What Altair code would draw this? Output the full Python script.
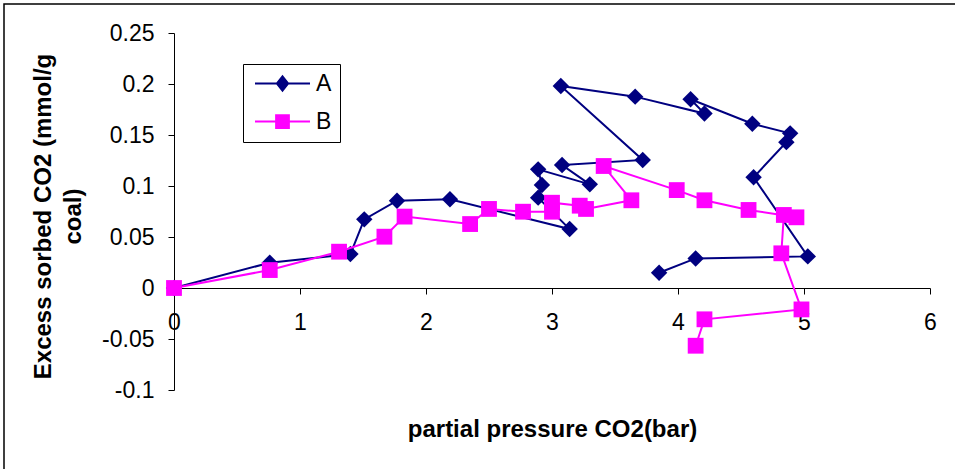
import altair as alt
import pandas as pd

series_names = ["A", "B"]
series_colors = ["#000080", "#FF00FF"]

a_x = [0, 0.76, 1.40, 1.51, 1.77, 2.19, 3.14, 2.89, 2.92, 2.89, 3.30, 3.08, 3.72,
       3.07, 3.66, 4.21, 4.10, 4.59, 4.89, 4.86, 4.60, 5.03, 4.14, 3.85]
a_y = [0, 0.0248, 0.0333, 0.0673, 0.0856, 0.087, 0.0578, 0.0886, 0.101, 0.1163, 0.1016, 0.1206, 0.1255,
       0.198, 0.1876, 0.171, 0.185, 0.161, 0.1516, 0.143, 0.1085, 0.031, 0.029, 0.015]

b_x = [0, 0.76, 1.31, 1.67, 1.83, 2.35, 2.50, 2.77, 3.00, 3.00, 3.22, 3.27, 3.63,
       3.41, 3.99, 4.21, 4.56, 4.94, 4.84, 4.82, 4.98, 4.21, 4.14]
b_y = [0, 0.0176, 0.0356, 0.0503, 0.070, 0.0627, 0.0775, 0.0748, 0.0748, 0.0836, 0.0807, 0.0775, 0.086,
       0.1196, 0.096, 0.086, 0.0765, 0.0693, 0.0716, 0.034, -0.021, -0.0307, -0.0566]

x_ticks = [0, 1, 2, 3, 4, 5, 6]
y_ticks = [-0.1, -0.05, 0, 0.05, 0.1, 0.15, 0.2, 0.25]

rows = []
for i, (x, y) in enumerate(zip(a_x, a_y)):
    rows.append({"series": "A", "idx": i, "p": x, "s": y})
for i, (x, y) in enumerate(zip(b_x, b_y)):
    rows.append({"series": "B", "idx": i, "p": x, "s": y})
df = pd.DataFrame(rows)

FONT = "Liberation Sans"

# legend symbols: a line with the marker in its middle
legend_paths = [
    "M-3.667,0L3.667,0M0,-0.95L0.75,0L0,0.95L-0.75,0Z",
    "M-3.667,0L3.667,0M-0.85,-0.85L0.85,-0.85L0.85,0.85L-0.85,0.85Z",
]

legend = alt.Legend(
    title=None, orient="none", legendX=69, legendY=31, direction="vertical",
    fillColor="white", strokeColor="black", padding=8,
    symbolSize=225, symbolStrokeWidth=2, symbolOffset=20, labelOffset=22,
    symbolOpacity=1,
    labelFont=FONT, labelFontSize=23, labelColor="black", rowPadding=14,
)

color_enc = alt.Color("series:N", scale=alt.Scale(domain=series_names, range=series_colors), legend=None)

x_enc = alt.X(
    "p:Q",
    scale=alt.Scale(domain=[0, 6], nice=False, zero=False),
    axis=alt.Axis(
        values=x_ticks, format="d", offset=-102, tickSize=6, labelPadding=17,
        labelFontSize=23, labelFlush=False, labelOverlap=False,
        title="partial pressure CO2(bar)", titleFontSize=24, titleFontWeight="bold",
        titleX=378, titleY=148, titleBaseline="alphabetic", titleAlign="center",
    ),
)
y_enc = alt.Y(
    "s:Q",
    scale=alt.Scale(domain=[-0.1, 0.25], nice=False, zero=False),
    axis=alt.Axis(
        values=y_ticks, tickSize=6, labelPadding=14, labelFontSize=23,
        labelExpr="replace(format(datum.value, '.2~f'), '\u2212', '-')",
        labelFlush=False, labelOverlap=False,
        title=["Excess sorbed CO2 (mmol/g", "\u00a0\u00a0\u00a0\u00a0coal)"],
        titleFontSize=24, titleFontWeight="bold", titleAngle=270,
        titleX=-124, titleY=183, titleAlign="center", titleBaseline="alphabetic",
        titleLineHeight=30,
    ),
)

base = alt.Chart(df)

def line_layer(name):
    return base.transform_filter(alt.datum.series == name).mark_line(strokeWidth=2).encode(
        x=x_enc, y=y_enc, color=color_enc, order=alt.Order("idx:Q"))

pt_a = base.transform_filter(alt.datum.series == "A").mark_point(
    shape="diamond", filled=True, size=270, opacity=1).encode(x=x_enc, y=y_enc, color=color_enc)
pt_b = base.transform_filter(alt.datum.series == "B").mark_square(
    size=250, opacity=1).encode(x=x_enc, y=y_enc, color=color_enc)

# legend-carrying layer (its own marks are invisible)
legend_layer = base.mark_point(filled=True, strokeWidth=2, opacity=0).encode(
    x=x_enc, y=y_enc,
    fill=alt.Fill("series:N", scale=alt.Scale(domain=series_names, range=series_colors), legend=legend),
    stroke=alt.Stroke("series:N", scale=alt.Scale(domain=series_names, range=series_colors), legend=legend),
    shape=alt.Shape("series:N", scale=alt.Scale(domain=series_names, range=legend_paths), legend=legend),
)

border = alt.Chart(pd.DataFrame({"k": [0]})).mark_rect(
    fillOpacity=0, stroke="black", strokeWidth=1.5).encode(
    x=alt.value(-170), x2=alt.value(800), y=alt.value(-29), y2=alt.value(460))

chart = alt.layer(border, legend_layer, line_layer("A"), pt_a, line_layer("B"), pt_b).properties(
    width=756, height=357,
    padding={"left": 174, "top": 33, "right": 25, "bottom": 79},
    autosize=alt.AutoSizeParams(type="none"),
).configure_view(stroke=None).configure_axis(
    grid=False, domainColor="black", tickColor="black", labelColor="black",
    titleColor="black", labelFont=FONT, titleFont=FONT, domainWidth=1, tickWidth=1,
)

chart.save("out.html", embed_options={"renderer": "svg", "actions": False})
